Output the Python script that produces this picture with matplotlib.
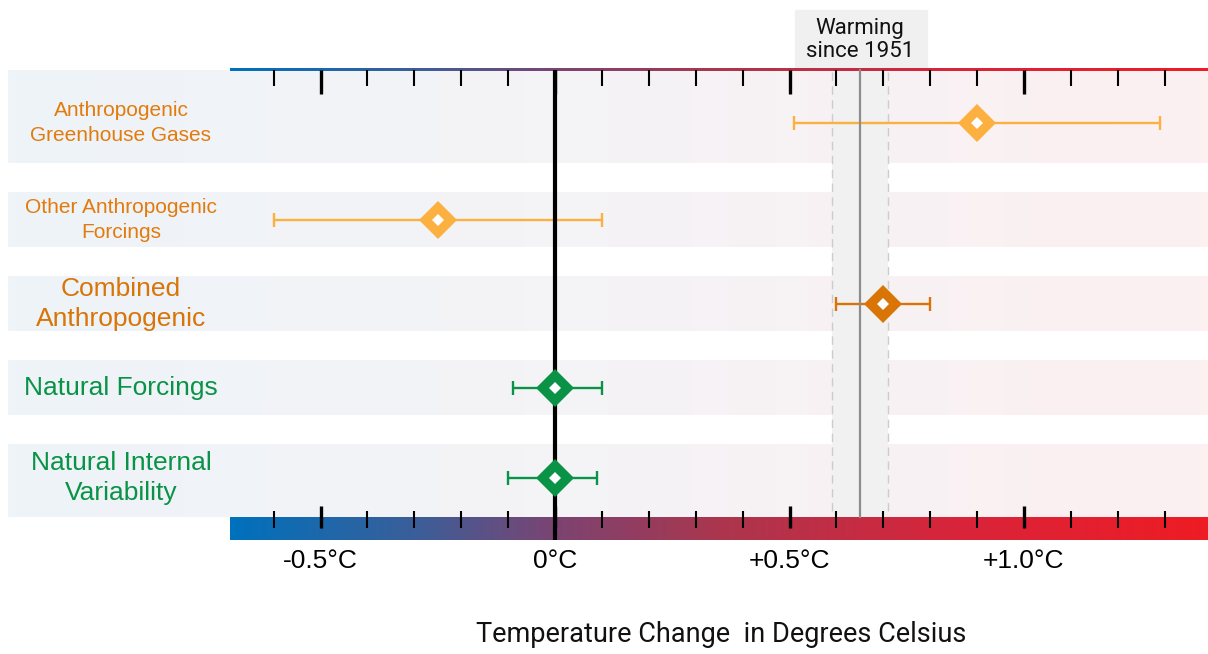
import numpy as np
import matplotlib.pyplot as plt
from matplotlib.colors import LinearSegmentedColormap

# data (degrees C)
labels = ["Anthropogenic\nGreenhouse Gases", "Other Anthropogenic\nForcings",
          "Combined\nAnthropogenic", "Natural Forcings", "Natural Internal\nVariability"]
best = [0.90, -0.25, 0.70, 0.00, 0.00]
low = [0.51, -0.60, 0.60, -0.09, -0.10]
high = [1.29, 0.10, 0.80, 0.10, 0.09]
warming_best = 0.65
warming_range = [0.59, 0.71]
tick_values = np.round(np.arange(-0.6, 1.31, 0.1), 1)
major_ticks = [-0.5, 0.0, 0.5, 1.0]
major_labels = ["-0.5°C", "0°C", "+0.5°C", "+1.0°C"]

# layout (y in pixels from top)
row_center = [123, 220, 304, 388, 478]
row_top = [70, 192, 276, 360, 444]
row_bot = [163, 247, 331, 415, 517]
row_size = [15, 15, 19, 19, 19]
marker_col = ["#fbb03f", "#fbb03f", "#d97406", "#0a9347", "#0a9347"]
text_col = ["#e27b0c", "#e27b0c", "#d97406", "#0a9347", "#0a9347"]

px0, ppd = 555, 469.0
def dx(px):
    return (px - px0) / ppd

fig = plt.figure(figsize=(12.08, 6.54), dpi=100)
ax = fig.add_axes([0, 0, 1, 1])
ax.set_xlim(dx(0), dx(1208))
ax.set_ylim(654, 0)
ax.axis("off")

scale = LinearSegmentedColormap.from_list(
    "temp", [(0, "#0071bc"), (0.19, "#3c5e98"), (0.33, "#7b4472"),
             (0.5, "#ab364e"), (0.75, "#d9243a"), (1, "#ee1c24")])
bands = LinearSegmentedColormap.from_list("band", ["#eef4f8", "#f5f3f6", "#fcf0f1"])
grad = np.linspace(0, 1, 256).reshape(1, -1)

# row bands
for t, b in zip(row_top, row_bot):
    ax.imshow(grad, cmap=bands, extent=(dx(8), dx(1208), b, t), aspect="auto",
              interpolation="bilinear", zorder=1)

# warming since 1951 band
ax.axvspan(warming_range[0], warming_range[1], ymin=1 - 517 / 654, ymax=1 - 70 / 654,
           color="#f1f1f1", zorder=2, lw=0)
for v in warming_range:
    ax.plot([v, v], [72, 517], color="#cccccc", lw=1, ls=(0, (6, 4)), zorder=2.5)
ax.plot([warming_best, warming_best], [70, 517], color="#8c8c8c", lw=1.6, zorder=4)
ax.add_patch(plt.Rectangle((dx(795), 10), dx(927) - dx(795), 58, color="#f0f0f0", zorder=2))
ax.text(warming_best, 40, "Warming\nsince 1951", ha="center", va="center", fontsize=16,
        family="Roboto", color="#111111", linespacing=1.15, zorder=3)

# top line and bottom bar
x_left, x_right = dx(230), dx(1208)
ax.imshow(grad, cmap=scale, extent=(x_left, x_right, 71.5, 68.5), aspect="auto",
          interpolation="bilinear", zorder=3)
ax.imshow(grad, cmap=scale, extent=(x_left, x_right, 540, 517), aspect="auto",
          interpolation="bilinear", zorder=3)

# ticks
for v in tick_values:
    major = v in major_ticks
    ax.plot([v, v], [70, 94 if major else 86], color="black",
            lw=2.4 if major else 1.5, zorder=5, solid_capstyle="butt")
    ax.plot([v, v], [506 if major else 511, 528], color="black",
            lw=2.4 if major else 1.5, zorder=5, solid_capstyle="butt")
for v, s in zip(major_ticks, major_labels):
    ax.text(v, 561, s, ha="center", va="center", fontsize=19, family="Liberation Sans")

# zero line
ax.plot([0, 0], [70, 540], color="black", lw=3, zorder=6, solid_capstyle="butt")

# estimates with ranges
for i in range(len(labels)):
    ax.errorbar(best[i], row_center[i], xerr=[[best[i] - low[i]], [high[i] - best[i]]],
                fmt="none", ecolor=marker_col[i], elinewidth=1.7, capsize=4.8,
                capthick=1.7, zorder=3.5)
    ax.plot(best[i], row_center[i], marker="D", ms=19, color=marker_col[i], mew=0, zorder=7)
    ax.plot(best[i], row_center[i], marker="D", ms=6.5, color="white", mew=0, zorder=8)
    ax.text(dx(121), row_center[i], labels[i], ha="center", va="center",
            fontsize=row_size[i], color=text_col[i], family="Liberation Sans",
            linespacing=1.42 if row_size[i] < 17 else 1.35, zorder=5)

ax.text(dx(721), 635, "Temperature Change  in Degrees Celsius", ha="center", va="center",
        fontsize=19.5, family="Roboto", color="#111111")

fig.savefig("out.png", dpi=100)
